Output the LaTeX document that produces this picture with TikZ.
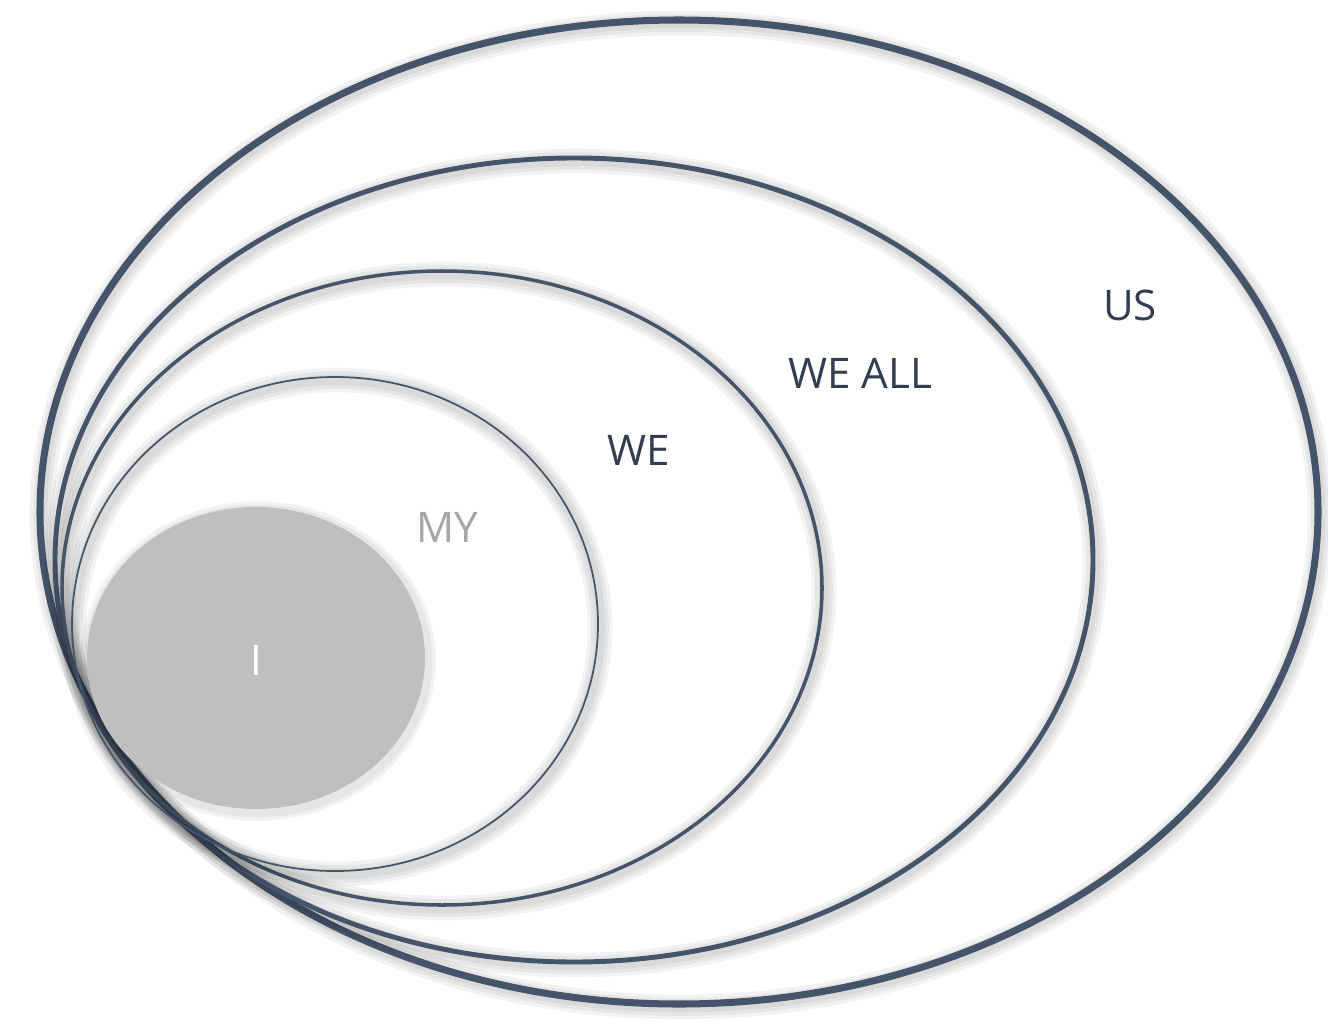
\documentclass[tikz,border=0pt]{standalone}
\usepackage{fontspec}
\setmainfont{Open Sans}
\definecolor{ringblue}{HTML}{44546A}
\definecolor{labelblue}{HTML}{333F50}
\definecolor{igray}{HTML}{BFBFBF}
\definecolor{mygray}{HTML}{A6A6A6}
\begin{document}
\begin{tikzpicture}[x=0.02cm,y=-0.02cm,line cap=round,line join=round,
  every node/.style={inner sep=0pt,font=\fontsize{24}{28}\selectfont},
  ring/.style={draw=ringblue,line width=#1},
  glow/.style={draw=black,opacity=0.05,line width=#1}]
  \useasboundingbox (0,0) rectangle (1328,1021);
  % 圈：US, WE ALL, WE, MY
  \foreach \cx/\cy/\rx/\ry/\lw in {
    679/512/639/492/4pt,
    574/560/519/402/2.8pt,
    442/588/380/317/2pt,
    335/624/263/247/1pt
  } {
    \foreach \g in {14,10,6} {
      \draw[glow=\g pt] (\cx+2,\cy+3) ellipse [x radius=\rx, y radius=\ry];
    }
    \draw[ring=\lw] (\cx,\cy) ellipse [x radius=\rx, y radius=\ry];
  }
  % 中心
  \foreach \g in {10,6} {
    \draw[glow=\g pt] (258,661) ellipse [x radius=169, y radius=151];
  }
  \fill[igray] (256,658) ellipse [x radius=169, y radius=151];
  % 文字
  \node[text=labelblue] (us) at (1130,305) {US};
  \node[text=labelblue] (weall) at (860,373) {WE ALL};
  \node[text=labelblue] (we) at (639,450) {WE};
  \node[text=mygray] (my) at (447,527) {MY};
  \node[text=white] (i) at (256,660) {I};
\end{tikzpicture}
\end{document}
